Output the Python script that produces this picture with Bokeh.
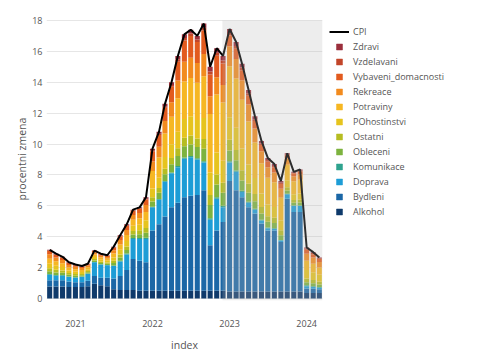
import pandas as pd
from datetime import datetime
from bokeh.plotting import figure
from bokeh.models import (ColumnDataSource, Legend, LegendItem, BoxAnnotation,
                          FixedTicker, Range1d, DatetimeTickFormatter)
from bokeh.embed import file_html
from bokeh.resources import INLINE

months = ["2020-09-01", "2020-10-01", "2020-11-01", "2020-12-01",
          "2021-01-01", "2021-02-01", "2021-03-01", "2021-04-01", "2021-05-01", "2021-06-01",
          "2021-07-01", "2021-08-01", "2021-09-01", "2021-10-01", "2021-11-01", "2021-12-01",
          "2022-01-01", "2022-02-01", "2022-03-01", "2022-04-01", "2022-05-01", "2022-06-01",
          "2022-07-01", "2022-08-01", "2022-09-01", "2022-10-01", "2022-11-01", "2022-12-01",
          "2023-01-01", "2023-02-01", "2023-03-01", "2023-04-01", "2023-05-01", "2023-06-01",
          "2023-07-01", "2023-08-01", "2023-09-01", "2023-10-01", "2023-11-01", "2023-12-01",
          "2024-01-01", "2024-02-01", "2024-03-01"]

cpi = [3.15, 2.9, 2.7, 2.35, 2.2, 2.1, 2.25, 3.1, 2.9, 2.8, 3.35, 4.1, 4.8, 5.75, 5.9, 6.55,
       9.7, 10.8, 12.6, 14.0, 15.7, 17.1, 17.4, 17.0, 17.8, 15.0, 16.2, 15.7,
       17.45, 16.6, 15.2, 13.5, 11.8, 10.2, 9.1, 8.7, 7.6, 9.4, 8.2, 8.35,
       3.3, 3.0, 2.65]

alkohol = [.78, .78, .78, .75, .75, .75, .80, .95, .85, .80, .60, .55, .55, .55, .50, .50,
           .50, .50, .50, .50, .50, .50, .50, .50, .50, .50, .50, .50,
           .45, .45, .45, .45, .45, .45, .45, .45, .45, .45, .45, .45,
           .35, .35, .35]
bydleni = [.40, .40, .40, .35, .30, .30, .35, .50, .50, .55, .70, .90, 1.30, 2.00, 1.95, 1.85,
           3.90, 4.30, 4.80, 5.40, 5.70, 6.05, 6.15, 6.20, 6.50, 2.95, 3.90, 4.45,
           7.15, 6.55, 6.10, 5.45, 5.05, 4.40, 3.95, 3.95, 3.20, 6.00, 5.15, 5.15,
           .30, .28, .25]
doprava = [.35, .30, .30, .30, .30, .35, .45, .90, .85, .80, .80, .95, 1.00, 1.30, 1.40, 1.50,
           1.50, 1.60, 2.25, 2.20, 2.30, 2.50, 2.50, 2.30, 1.80, 1.65, 2.05, .95,
           1.20, 1.20, .35, .30, .25, .20, .15, .10, .10, .30, .40, .40,
           .15, .12, .10]
komunikace = [.05, .04, .04, .03, .03, .02, .02, .02, .02, .02, .04, .05, .06, .06, .06, .08,
              .04, .04, .05, .06, .07, .08, .08, .08, .09, .10, .10, .10,
              .09, .08, .08, .07, .06, .05, .05, .04, .04, .03, .02, .02,
              .05, .05, .04]
obleceni = [.19, .17, .15, .11, .10, .08, .08, .09, .08, .08, .15, .20, .23, .23, .25, .32,
            .34, .40, .45, .53, .65, .72, .74, .72, .81, .85, .83, .84,
            .69, .67, .66, .58, .48, .41, .36, .34, .31, .21, .18, .19,
            .20, .18, .16]
ostatni = [.19, .17, .15, .11, .10, .08, .08, .09, .08, .08, .15, .20, .23, .23, .25, .32,
           .27, .31, .35, .41, .50, .56, .58, .56, .63, .65, .65, .65,
           .69, .67, .66, .58, .48, .41, .36, .34, .31, .21, .18, .19,
           .25, .22, .19]
pohostinstvi = [.29, .26, .22, .17, .15, .13, .12, .14, .13, .12, .22, .31, .35, .34, .37, .49,
                .57, .66, .76, .89, 1.08, 1.21, 1.24, 1.20, 1.35, 1.45, 1.42, 1.43,
                1.47, 1.43, 1.41, 1.24, 1.03, .88, .77, .71, .65, .45, .37, .40,
                .55, .50, .45]
potraviny = [.33, .29, .24, .19, .17, .14, .13, .15, .14, .13, .25, .34, .39, .38, .41, .54,
             1.14, 1.32, 1.52, 1.77, 2.16, 2.42, 2.48, 2.40, 2.70, 3.80, 3.75, 3.77,
             3.29, 3.19, 3.16, 2.78, 2.30, 1.96, 1.73, 1.60, 1.46, 1.01, .84, .89,
             .60, .55, .47]
rekreace = [.28, .24, .21, .16, .15, .12, .11, .13, .12, .11, .21, .29, .33, .32, .35, .46,
            .61, .70, .81, .94, 1.15, 1.29, 1.32, 1.28, 1.44, 1.15, 1.13, 1.13,
            1.30, 1.26, 1.25, 1.10, .91, .77, .68, .63, .58, .40, .33, .35,
            .45, .40, .35]
vybaveni = [.21, .18, .16, .12, .11, .09, .08, .10, .09, .08, .16, .22, .26, .25, .27, .35,
            .65, .75, .86, 1.00, 1.22, 1.37, 1.40, 1.36, 1.53, 1.40, 1.38, 1.39,
            .69, .67, .66, .58, .48, .41, .36, .34, .31, .21, .18, .19,
            .25, .22, .19]
vzdelavani = [.03, .03, .02, .02, .02, .02, .01, .01, .02, .01, .03, .04, .04, .04, .04, .05,
              .07, .09, .10, .12, .15, .16, .17, .16, .18, .20, .20, .20,
              .17, .17, .17, .15, .12, .10, .10, .08, .08, .05, .04, .05,
              .08, .07, .06]
zdravi = [.05, .04, .03, .04, .02, .02, .02, .02, .02, .02, .04, .05, .06, .05, .05, .09,
          .11, .13, .15, .18, .22, .24, .24, .24, .27, .30, .29, .29,
          .26, .26, .25, .22, .19, .16, .14, .12, .11, .08, .06, .07,
          .07, .06, .04]

categories = ["Alkohol", "Bydleni", "Doprava", "Komunikace", "Obleceni", "Ostatni",
              "POhostinstvi", "Potraviny", "Rekreace", "Vybaveni_domacnosti",
              "Vzdelavani", "Zdravi"]
series = [alkohol, bydleni, doprava, komunikace, obleceni, ostatni,
          pohostinstvi, potraviny, rekreace, vybaveni, vzdelavani, zdravi]
colors = ["#0f3a6b", "#1b67a6", "#1d9dd6", "#2fa38e", "#7db33f", "#b6bd22",
          "#e6c41e", "#f6b723", "#f28b1e", "#e25b1f", "#c2462a", "#9b2f3c"]

year_ticks = ["2021-01-01", "2022-01-01", "2023-01-01", "2024-01-01"]
y_ticks = [0, 2, 4, 6, 8, 10, 12, 14, 16, 18]
shade_start = "2022-11-28"

data = {"date": pd.to_datetime(months), "cpi": cpi}
for name, vals in zip(categories, series):
    data[name] = vals
src = ColumnDataSource(data)

FONT = "Open Sans"
TXT = "#555555"

p = figure(frame_width=276, frame_height=283, x_axis_type="datetime",
           x_range=Range1d(datetime(2020, 8, 17), datetime(2024, 3, 16)),
           y_range=Range1d(-0.13, 18.19),
           output_backend="svg", toolbar_location=None,
           min_border_left=46, min_border_right=0, min_border_top=17, min_border_bottom=52)
p.outline_line_color = None
p.background_fill_color = "white"
p.border_fill_color = "white"

bar_w = 24 * 24 * 3600 * 1000
p.vbar_stack(categories, x="date", width=bar_w, color=colors, line_width=0,
             line_alpha=0, source=src)
cpi_r = p.line("date", "cpi", source=src, color="black", line_width=2)

shade = BoxAnnotation(left=pd.Timestamp(shade_start), top=18, fill_color="#b8b8b8",
                      fill_alpha=0.25, line_alpha=0)
p.add_layout(shade)

# legend (in the right side panel); square swatches come from zero-size marker proxies
items = [LegendItem(label="CPI", renderers=[cpi_r])]
for name, c in reversed(list(zip(categories, colors))):
    proxy = p.scatter(x="date", y=name, source=src, marker="square", size=0,
                      fill_color=c, line_color=c, line_width=0.5)
    items.append(LegendItem(label=name, renderers=[proxy]))
legend = Legend(items=items, location="top_left", margin=0, padding=7, spacing=0,
                glyph_width=20, glyph_height=15, label_height=15, label_standoff=4,
                label_width=120,
                label_text_font=FONT, label_text_font_size="9px", label_text_color=TXT,
                border_line_alpha=0, background_fill_alpha=0)
p.add_layout(legend, "right")

# axes
p.xgrid.grid_line_color = None
p.ygrid.grid_line_color = "#e6e6e6"
p.ygrid.ticker = FixedTicker(ticks=y_ticks)
p.yaxis.ticker = FixedTicker(ticks=y_ticks)
p.xaxis.ticker = FixedTicker(ticks=[int(pd.Timestamp(t).value // 10**6) for t in year_ticks])
p.xaxis.formatter = DatetimeTickFormatter(years="%Y", months="%Y", days="%Y", hours="%Y")
for ax in (p.xaxis, p.yaxis):
    ax.axis_line_color = None
    ax.major_tick_line_color = None
    ax.minor_tick_line_color = None
    ax.major_tick_out = 0
    ax.minor_tick_out = 0
    ax.major_label_text_font = FONT
    ax.major_label_text_font_size = "9px"
    ax.major_label_text_color = TXT
    ax.axis_label_text_font = FONT
    ax.axis_label_text_font_size = "10.5px"
    ax.axis_label_text_font_style = "normal"
    ax.axis_label_text_color = TXT
p.yaxis.axis_label = "procentni zmena"
p.yaxis.major_label_standoff = 4
p.yaxis.axis_label_standoff = 0
p.xaxis.axis_label = "index"
p.xaxis.major_label_standoff = 19
p.xaxis.axis_label_standoff = 8

open("out.html", "w").write(file_html(p, INLINE))
